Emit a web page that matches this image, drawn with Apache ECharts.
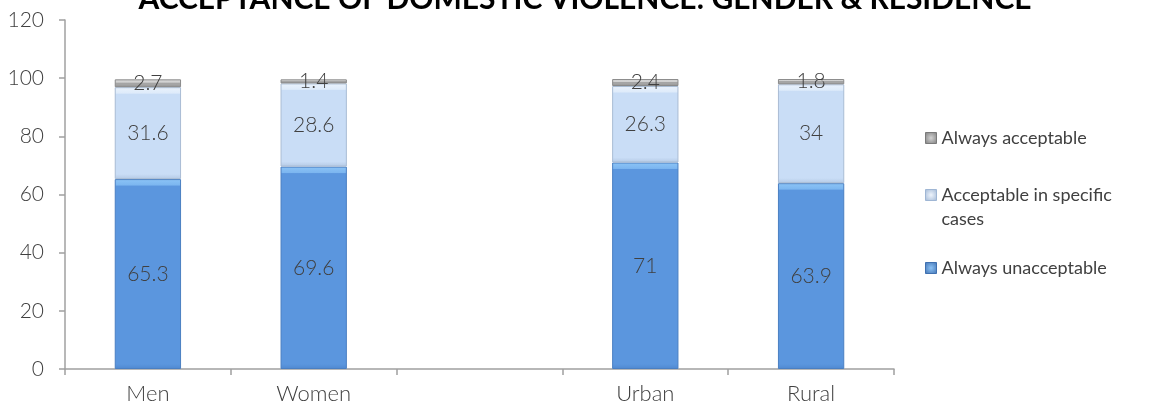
<!DOCTYPE html>
<html>
<head>
<meta charset="utf-8">
<script src="https://cdn.jsdelivr.net/npm/echarts@6/dist/echarts.min.js"></script>
<style>
  html, body { margin: 0; padding: 0; background: #fff; }
  #chart { width: 1152px; height: 411px; }
</style>
</head>
<body>
<div id="chart"></div>
<script>
// Survey shares (%) by gender and by place of residence; the empty category is a spacer.
const categories = ['Men', 'Women', '', 'Urban', 'Rural'];
const alwaysUnacceptable = [65.3, 69.6, null, 71, 63.9];
const acceptableSpecific = [31.6, 28.6, null, 26.3, 34];
const alwaysAcceptable = [2.7, 1.4, null, 2.4, 1.8];
const yTicks = { min: 0, max: 120, interval: 20 };

const FONT = 'Lato, "Open Sans", sans-serif';
const TEXT = '#404040';

// Grid geometry, used to size the bevel highlight of each stacked block
const GRID = { left: 65, right: 258, top: 20, bottom: 42 };
const plotH = 411 - GRID.top - GRID.bottom;
const pxPerUnit = plotH / (yTicks.max - yTicks.min);

function bevelFill(value, p) {
  const h = Math.max(value * pxPerUnit, 1);
  const t = Math.min(7 / h, 0.45);
  const b = Math.min(5 / h, 0.3);
  return {
    type: 'linear', x: 0, y: 0, x2: 0, y2: 1,
    colorStops: [
      { offset: 0, color: p.hi },
      { offset: t * 0.85, color: p.top },
      { offset: t, color: p.face },
      { offset: 1 - b, color: p.face },
      { offset: 1, color: p.edge }
    ]
  };
}

function blocks(values, p) {
  return values.map(v => v == null ? null : {
    value: v,
    itemStyle: {
      color: bevelFill(v, p),
      borderColor: p.border,
      borderWidth: 1
    }
  });
}

const palettes = {
  unacc: { face: '#5b96de', top: '#7cb6f0', hi: '#8cc4f6', edge: '#4f88d0', border: '#4a7fc2' },
  spec:  { face: '#c9ddf6', top: '#deebfa', hi: '#eaf2fc', edge: '#b4c9e4', border: '#a9bcd4' },
  acc:   { face: '#a5a5a5', top: '#d0d0d0', hi: '#dadada', edge: '#8e8e8e', border: '#8a8a8a' }
};

const labelStyle = {
  show: true,
  position: 'inside',
  color: TEXT,
  fontFamily: FONT,
  fontWeight: 300,
  fontSize: 21,
  formatter: p => p.value
};

function legendIcon(face, edge) {
  return {
    color: {
      type: 'radial', x: 0.5, y: 0.5, r: 0.7,
      colorStops: [{ offset: 0, color: face }, { offset: 1, color: edge }]
    },
    borderColor: edge,
    borderWidth: 1
  };
}

const legendBase = {
  orient: 'vertical',
  left: 925,
  padding: 0,
  icon: 'rect',
  itemWidth: 11,
  itemHeight: 11,
  itemGap: 0,
  textStyle: { color: TEXT, fontFamily: FONT, fontWeight: 400, fontSize: 18 }
};

const chart = echarts.init(document.getElementById('chart'));
chart.setOption({
  animation: false,
  backgroundColor: '#ffffff',
  title: {
    text: 'ACCEPTANCE OF DOMESTIC VIOLENCE: GENDER & RESIDENCE',
    left: 585,
    textAlign: 'center',
    top: -16,
    padding: 0,
    textStyle: { fontFamily: FONT, fontWeight: 'bold', fontSize: 30, color: '#000' }
  },
  legend: [
    Object.assign({}, legendBase, {
      top: 129,
      data: [{ name: 'Always acceptable', itemStyle: legendIcon('#d2d2d2', '#7a7a7a') }]
    }),
    Object.assign({}, legendBase, {
      top: 159,
      formatter: () => ' \nAcceptable in specific\ncases',
      textStyle: Object.assign({}, legendBase.textStyle, { lineHeight: 24 }),
      data: [{ name: 'Acceptable in specific cases', itemStyle: legendIcon('#eef4fc', '#9fb6d4') }]
    }),
    Object.assign({}, legendBase, {
      top: 259,
      data: [{ name: 'Always unacceptable', itemStyle: legendIcon('#8cc2f5', '#3f70b0') }]
    })
  ],
  grid: GRID,
  xAxis: {
    type: 'category',
    data: categories,
    boundaryGap: true,
    axisLine: { lineStyle: { color: '#a0a0a0', width: 1.5 } },
    axisTick: { show: true, alignWithLabel: false, length: 6, lineStyle: { color: '#a0a0a0', width: 1.5 } },
    axisLabel: { color: TEXT, fontFamily: FONT, fontWeight: 300, fontSize: 22, margin: 14 }
  },
  yAxis: {
    type: 'value',
    min: yTicks.min,
    max: yTicks.max,
    interval: yTicks.interval,
    splitLine: { show: false },
    axisLine: { show: true, lineStyle: { color: '#a0a0a0', width: 1.5 } },
    axisTick: { show: true, length: 6, lineStyle: { color: '#a0a0a0', width: 1.5 } },
    axisLabel: { color: TEXT, fontFamily: FONT, fontWeight: 300, fontSize: 21, margin: 21 }
  },
  series: [
    {
      name: 'Always unacceptable', type: 'bar', stack: 'total', barWidth: '40%',
      data: blocks(alwaysUnacceptable, palettes.unacc),
      itemStyle: { color: '#5b96de' },
      label: labelStyle
    },
    {
      name: 'Acceptable in specific cases', type: 'bar', stack: 'total', barWidth: '40%',
      data: blocks(acceptableSpecific, palettes.spec),
      itemStyle: { color: '#c9ddf6' },
      label: labelStyle
    },
    {
      name: 'Always acceptable', type: 'bar', stack: 'total', barWidth: '40%',
      data: blocks(alwaysAcceptable, palettes.acc),
      itemStyle: { color: '#a5a5a5' },
      label: labelStyle
    }
  ]
});
</script>
</body>
</html>
